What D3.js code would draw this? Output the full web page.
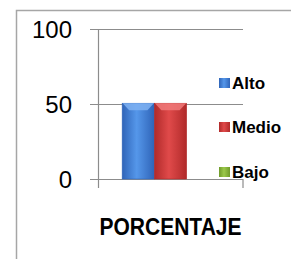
<!DOCTYPE html>
<html>
<head>
<meta charset="utf-8">
<script src="https://cdn.jsdelivr.net/npm/d3@7"></script>
<style>
  body { margin: 0; background: #fff; }
  svg { display: block; }
</style>
</head>
<body>
<div id="chart"></div>
<script>
var categories = ['PORCENTAJE'];
var series     = ['Alto', 'Medio', 'Bajo'];
var values     = [50.5, 50.5, 0];
var y_ticks    = [0, 50, 100];

var width  = 291;
var height = 259;

var colors = {
    Alto:  { dark: '#2f64b8', light: '#5597ea', top: '#7fb2f2' },
    Medio: { dark: '#b02a2a', light: '#e04a4a', top: '#f07a7a' },
    Bajo:  { dark: '#6f9a2a', light: '#9bc94a', top: '#c2e37a' }
};

var svg = d3.select('#chart')
    .append('svg')
    .attr('width', width)
    .attr('height', height);

// outer frame
svg.append('path')
    .attr('d', 'M16.5,259 V10.5 H291')
    .attr('fill', 'none')
    .attr('stroke', '#a6a6a6')
    .attr('stroke-width', 1.5);

var defs = svg.append('defs');
series.forEach(function(s) {
    var g = defs.append('linearGradient')
        .attr('id', 'grad-' + s)
        .attr('x1', 0).attr('x2', 1).attr('y1', 0).attr('y2', 0);
    g.append('stop').attr('offset', '0%').attr('stop-color', colors[s].dark);
    g.append('stop').attr('offset', '45%').attr('stop-color', colors[s].light);
    g.append('stop').attr('offset', '100%').attr('stop-color', colors[s].dark);
});

// scales
var x0 = d3.scaleBand()
    .domain(categories)
    .range([98, 243])
    .paddingInner(0)
    .paddingOuter(0.25);

var x1 = d3.scaleBand()
    .domain(series)
    .range([0, x0.bandwidth()]);

var y = d3.scaleLinear()
    .domain([0, 100])
    .range([179, 29]);

// gridlines
svg.append('g')
    .selectAll('line')
    .data(y_ticks)
    .enter()
    .append('line')
    .attr('x1', 90)
    .attr('x2', 243)
    .attr('y1', function(d) { return Math.round(y(d)) + 0.5; })
    .attr('y2', function(d) { return Math.round(y(d)) + 0.5; })
    .attr('stroke', '#8c8c8c')
    .attr('stroke-width', 1.2);

// y axis line and bottom ticks
svg.append('line')
    .attr('x1', 98.5).attr('x2', 98.5)
    .attr('y1', y(100)).attr('y2', y(0) + 9)
    .attr('stroke', '#8c8c8c')
    .attr('stroke-width', 1.2);
svg.append('line')
    .attr('x1', 243).attr('x2', 243)
    .attr('y1', y(0)).attr('y2', y(0) + 9)
    .attr('stroke', '#8c8c8c')
    .attr('stroke-width', 1.2);

// tick labels
svg.append('g')
    .selectAll('text')
    .data(y_ticks)
    .enter()
    .append('text')
    .attr('x', 72)
    .attr('y', function(d) { return y(d); })
    .attr('dy', '0.36em')
    .attr('text-anchor', 'end')
    .style('font-family', 'Liberation Sans, Arial, sans-serif')
    .style('font-size', '24px')
    .text(function(d) { return d; });

// bars
var data = series.map(function(s, i) {
    return { key: s, value: values[i], category: categories[0] };
});

var bars = svg.append('g')
    .selectAll('g')
    .data(data)
    .enter()
    .append('g')
    .attr('transform', function(d) {
        return 'translate(' + (x0(d.category) + x1(d.key)) + ',0)';
    });

bars.append('rect')
    .attr('x', 0)
    .attr('y', function(d) { return y(d.value); })
    .attr('width', x1.bandwidth())
    .attr('height', function(d) { return y(0) - y(d.value); })
    .attr('fill', function(d) { return 'url(#grad-' + d.key + ')'; })
    .attr('stroke', function(d) { return colors[d.key].dark; })
    .attr('stroke-width', 0.6);

// top bevel
bars.filter(function(d) { return d.value > 0; })
    .append('path')
    .attr('d', function(d) {
        var w = x1.bandwidth();
        var t = y(d.value);
        return 'M0.5,' + t + ' H' + (w - 0.5) + ' L' + (w - 7) + ',' + (t + 7) +
            ' H7 Z';
    })
    .attr('fill', function(d) { return colors[d.key].top; })
    .attr('opacity', 0.85);

// legend
var legend = svg.append('g')
    .selectAll('g')
    .data(series)
    .enter()
    .append('g')
    .attr('transform', function(d, i) {
        return 'translate(219,' + [83, 127, 172][i] + ')';
    });

legend.append('rect')
    .attr('x', 0)
    .attr('y', -5)
    .attr('width', 11)
    .attr('height', 10)
    .attr('fill', function(d) { return 'url(#grad-' + d + ')'; });

legend.append('text')
    .attr('x', 13)
    .attr('y', 0)
    .attr('dy', '0.36em')
    .style('font-family', 'Liberation Sans, Arial, sans-serif')
    .style('font-weight', 'bold')
    .style('font-size', '17px')
    .text(function(d) { return d; });

// category label
svg.append('text')
    .attr('x', x0(categories[0]) + x0.bandwidth() / 2)
    .attr('y', 227)
    .attr('dy', '0.36em')
    .attr('text-anchor', 'middle')
    .attr('textLength', 142)
    .attr('lengthAdjust', 'spacingAndGlyphs')
    .style('font-family', 'Liberation Sans, Arial, sans-serif')
    .style('font-weight', 'bold')
    .style('font-size', '23px')
    .text(categories[0]);
</script>
</body>
</html>
